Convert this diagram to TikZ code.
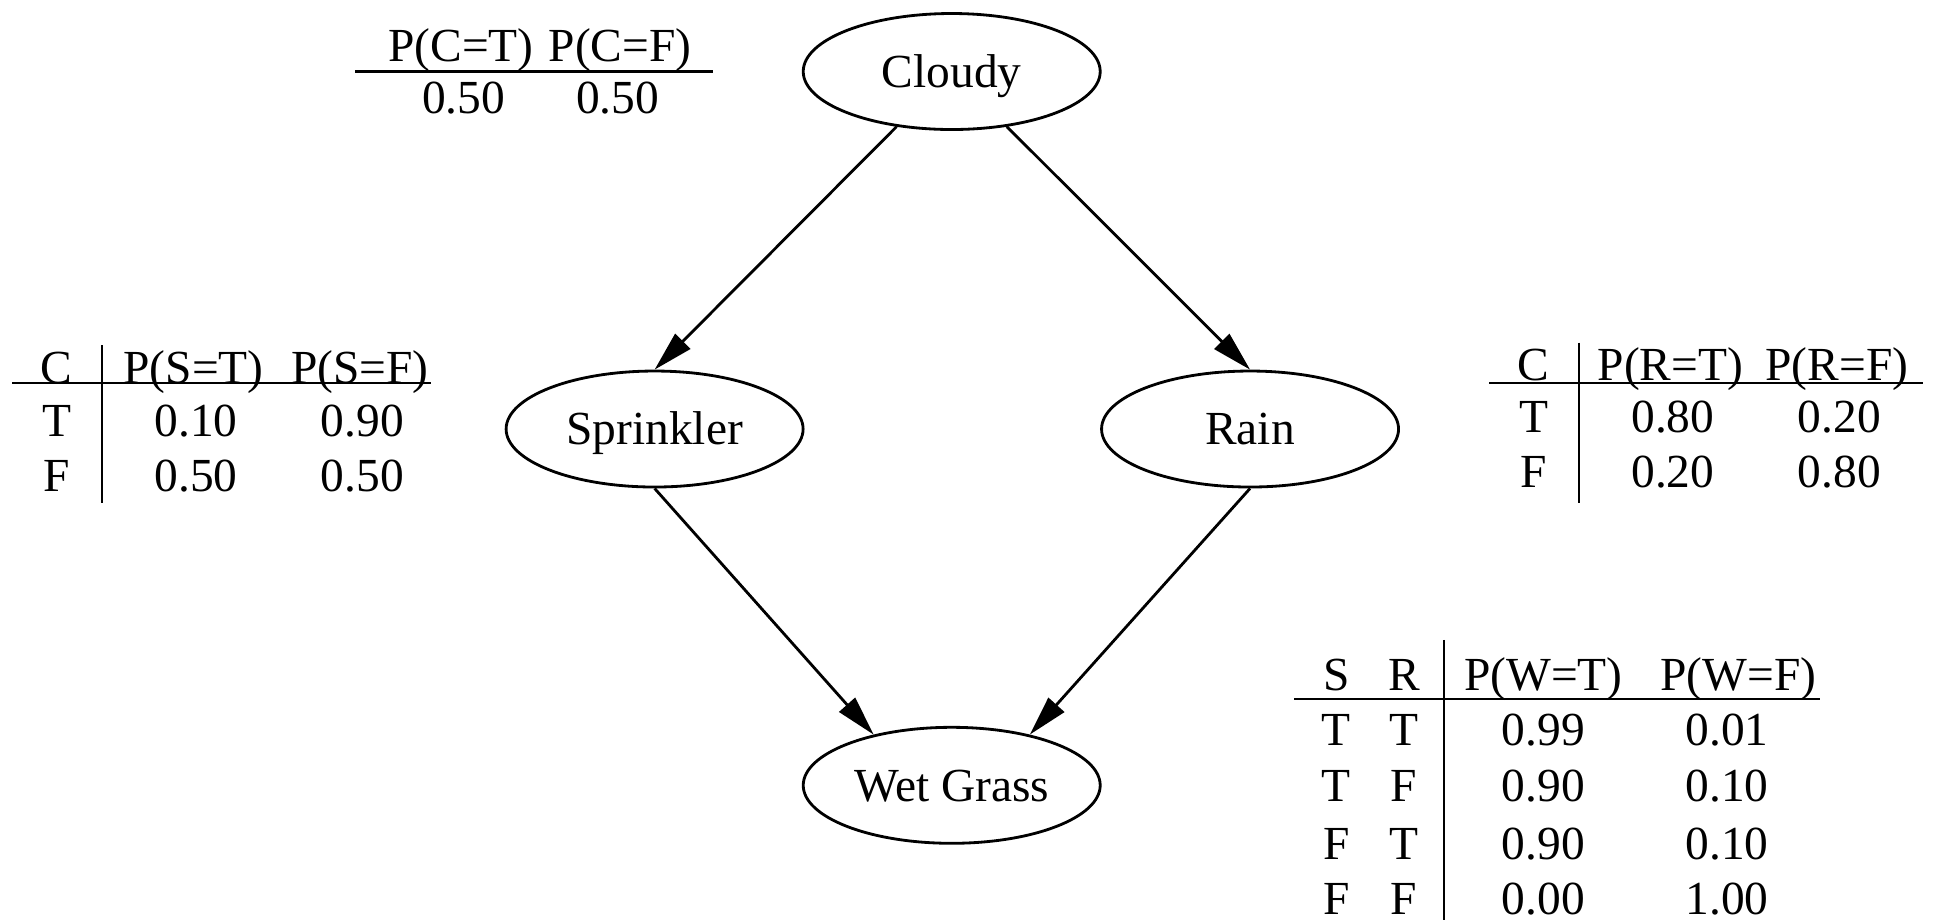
\documentclass[tikz,border=0pt]{standalone}
\usepackage{fontspec}
\setmainfont{Liberation Serif}
\usetikzlibrary{shapes.geometric,arrows.meta}
\tikzset{
  var/.style = {draw, ellipse, line width=0.8pt, inner sep=0pt,
    minimum width=2.97cm, minimum height=1.16cm, text height=9pt, text depth=0pt},
  cell/.style = {inner sep=0pt, text height=9pt, text depth=0pt},
  rule/.style = {line width=0.6pt},
  link/.style = {-{Triangle[length=4mm, width=2.1mm]}, line width=0.8pt}
}
\begin{document}
\begin{tikzpicture}[x = 0.012328cm, y = -0.012328cm,
    every node/.style = {font=\fontsize{13.5}{16}\selectfont}]
  \useasboundingbox (0,0) rectangle (1568,746);
  % the network
  \node (cloudy) [var] at (772,58) {Cloudy};
  \node (sprinkler) [var] at (531,348) {Sprinkler};
  \node (rain) [var] at (1014,348) {Rain};
  \node (wetgrass) [var] at (772,637) {Wet Grass};
  \draw [link] (cloudy.225) -- (sprinkler.north);
  \draw [link] (cloudy.315) -- (rain.north);
  \draw [link] (sprinkler.south) -- (wetgrass.147);
  \draw [link] (rain.south) -- (wetgrass.33);
  % table for Cloudy
  \node (pct) [cell] at (374,37) {P(C=T)};
  \node (pcf) [cell] at (503,37) {P(C=F)};
  \draw [rule] (288,58) -- (578,58);
  \node (ct) [cell] at (376,79) {0.50};
  \node (cf) [cell] at (501,79) {0.50};
  % table for Sprinkler
  \node (sc) [cell] at (46,298) {C};
  \node (pst) [cell] at (157,298) {P(S=T)};
  \node (psf) [cell] at (292,298) {P(S=F)};
  \draw [rule] (10,311) -- (350,311);
  \draw [rule] (83,280) -- (83,408);
  \node (s1c) [cell] at (46,341) {T};
  \node (s1t) [cell] at (159,341) {0.10};
  \node (s1f) [cell] at (294,341) {0.90};
  \node (s2c) [cell] at (46,386) {F};
  \node (s2t) [cell] at (159,386) {0.50};
  \node (s2f) [cell] at (294,386) {0.50};
  % table for Rain
  \node (rc) [cell] at (1244,296) {C};
  \node (prt) [cell] at (1355,296) {P(R=T)};
  \node (prf) [cell] at (1490,296) {P(R=F)};
  \draw [rule] (1208,311) -- (1560,311);
  \draw [rule] (1281,278) -- (1281,408);
  \node (r1c) [cell] at (1244,338) {T};
  \node (r1t) [cell] at (1357,338) {0.80};
  \node (r1f) [cell] at (1492,338) {0.20};
  \node (r2c) [cell] at (1244,383) {F};
  \node (r2t) [cell] at (1357,383) {0.20};
  \node (r2f) [cell] at (1492,383) {0.80};
  % table for Wet Grass
  \node (ws) [cell] at (1084,547) {S};
  \node (wr) [cell] at (1139,547) {R};
  \node (pwt) [cell] at (1252,547) {P(W=T)};
  \node (pwf) [cell] at (1410,547) {P(W=F)};
  \draw [rule] (1050,567) -- (1476,567);
  \draw [rule] (1171,519) -- (1171,746);
  \node (w1s) [cell] at (1084,592) {T};
  \node (w1r) [cell] at (1139,592) {T};
  \node (w1t) [cell] at (1252,592) {0.99};
  \node (w1f) [cell] at (1401,592) {0.01};
  \node (w2s) [cell] at (1084,637) {T};
  \node (w2r) [cell] at (1139,637) {F};
  \node (w2t) [cell] at (1252,637) {0.90};
  \node (w2f) [cell] at (1401,637) {0.10};
  \node (w3s) [cell] at (1084,684) {F};
  \node (w3r) [cell] at (1139,684) {T};
  \node (w3t) [cell] at (1252,684) {0.90};
  \node (w3f) [cell] at (1401,684) {0.10};
  \node (w4s) [cell] at (1084,729) {F};
  \node (w4r) [cell] at (1139,729) {F};
  \node (w4t) [cell] at (1252,729) {0.00};
  \node (w4f) [cell] at (1401,729) {1.00};
\end{tikzpicture}
\end{document}
